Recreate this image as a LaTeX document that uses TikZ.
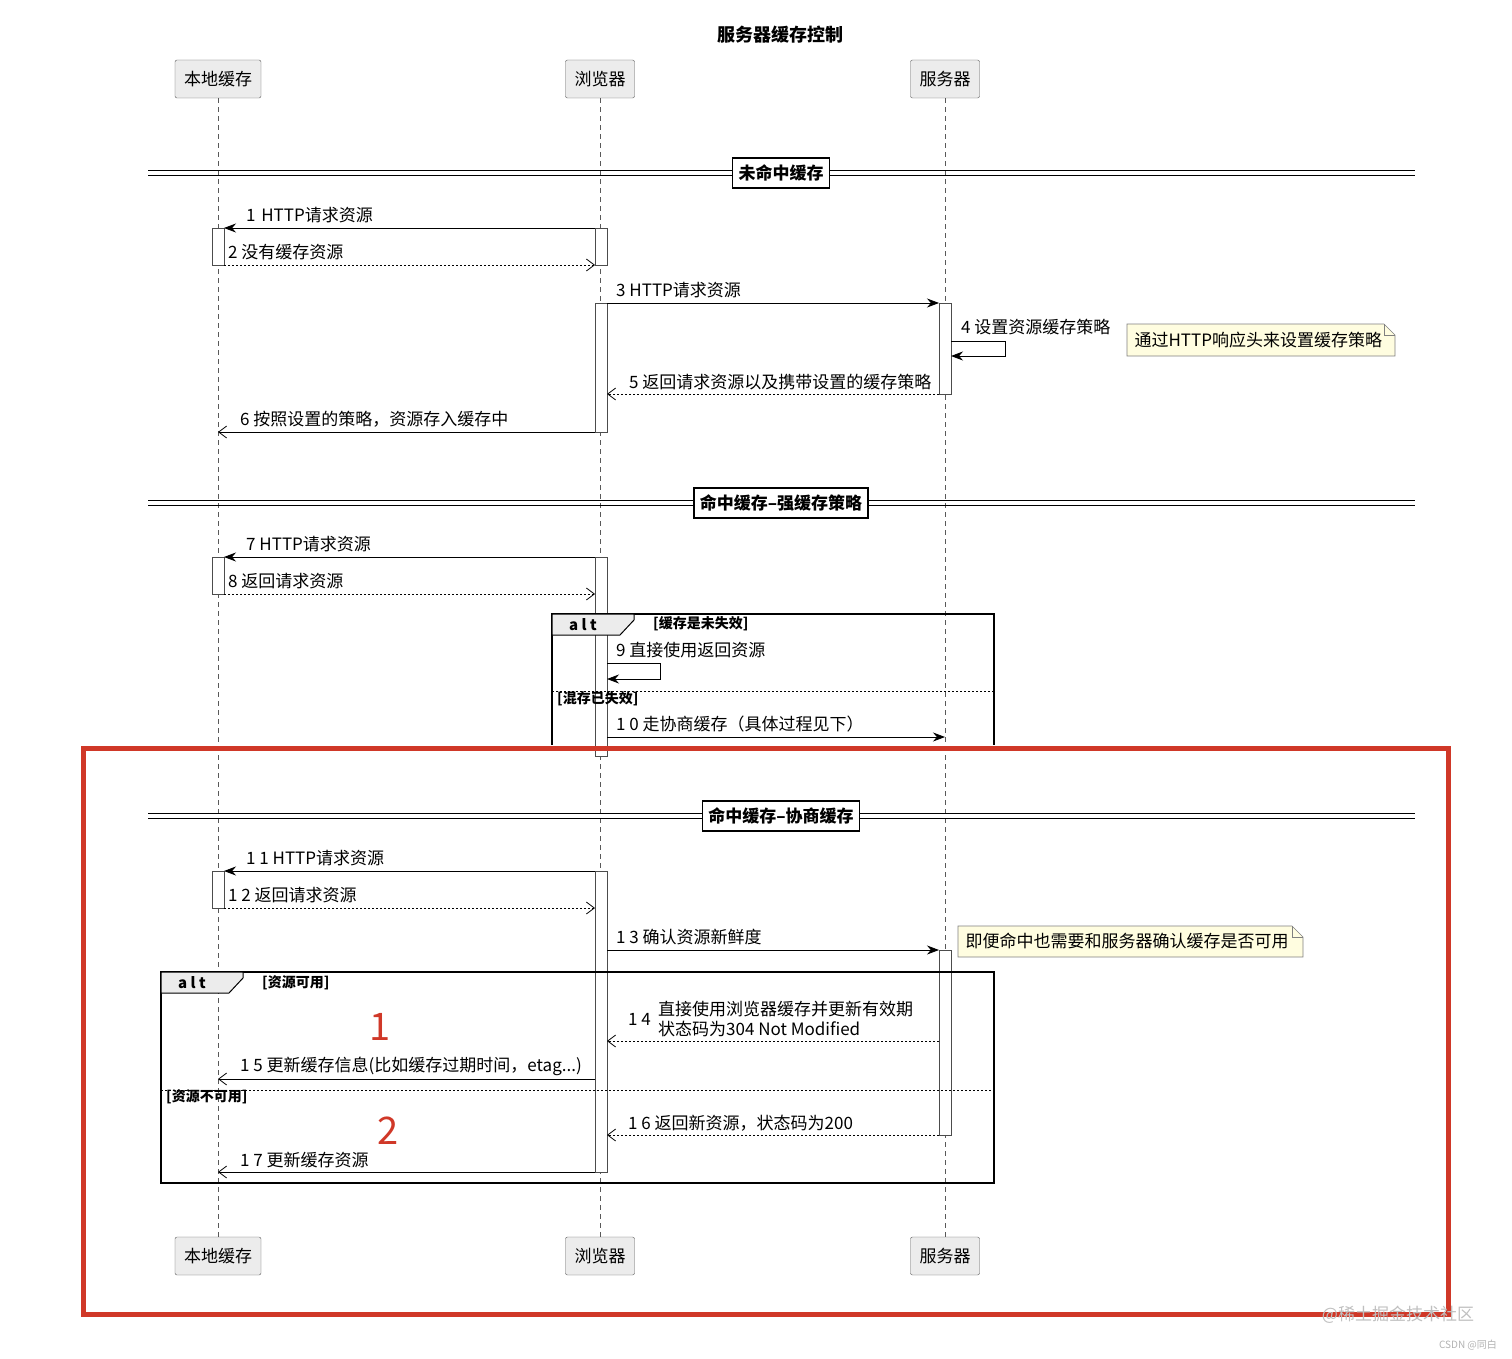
\documentclass[tikz,border=0pt]{standalone}
\usepackage{fontspec}
\setmainfont{Noto Sans CJK SC}
\usetikzlibrary{arrows.meta}
\definecolor{hl}{RGB}{208,56,40}
\begin{document}
\begin{tikzpicture}[x=1pt,y=-1pt,font=\fontsize{17}{19}\selectfont,
 part/.style={draw=gray!70!black,fill=gray!15,rounded corners=2pt,minimum height=38pt,inner xsep=9pt},
 life/.style={gray!70!black,dash pattern=on 5pt off 4pt,line width=0.7pt},
 act/.style={draw=black!70,fill=white,line width=0.8pt},
 sync/.style={-{Stealth[length=12pt,width=9pt]},line width=0.8pt},
 ret/.style={-{Straight Barb[length=8pt,width=12pt]},line width=0.8pt,dash pattern=on 2pt off 2pt},
 op/.style={-{Straight Barb[length=8pt,width=12pt]},line width=0.8pt},
 lbl/.style={anchor=west,inner sep=0pt},
 divlbl/.style={draw,line width=1.5pt,fill=white,font=\fontsize{17}{19}\selectfont\bfseries,minimum height=30pt,inner xsep=6pt},
 note/.style={fill=yellow!12,draw=black!50,line width=0.6pt},
 frame/.style={draw,line width=1.5pt},
 guard/.style={anchor=west,inner sep=0pt,font=\fontsize{14}{16}\selectfont\bfseries}]
\useasboundingbox (0,0) rectangle (1512,1359);
\node[font=\fontsize{18}{20}\selectfont\bfseries] (title) at (780,35) {服务器缓存控制};
% participants
\node[part] (L) at (218,79) {本地缓存};
\node[part] (B) at (600,79) {浏览器};
\node[part] (S) at (945,79) {服务器};
\node[part] (L2) at (218,1256) {本地缓存};
\node[part] (B2) at (600,1256) {浏览器};
\node[part] (S2) at (945,1256) {服务器};
\draw[life] (L.south) -- (L2.north);
\draw[life] (B.south) -- (B2.north);
\draw[life] (S.south) -- (S2.north);
% dividers
\foreach \y/\t/\n in {173/未命中缓存/d1,503/命中缓存–强缓存策略/d2,816/命中缓存–协商缓存/d3}{
 \draw[line width=0.8pt] (148,\y-2.5) -- (1415,\y-2.5) (148,\y+2.5) -- (1415,\y+2.5);
 \node[divlbl] (\n) at (781,\y) {\t};}
% activations
\foreach \x/\a/\b in {212/228/265,212/557/594,212/871/908,595/228/265,595/303/432,595/557/756,595/871/1172,939/303/394,939/950/1135}
 \draw[act] (\x,\a) rectangle (\x+12,\b);
% alt frame 1
\draw[frame] (552,745) -- (552,614) -- (994,614) -- (994,745);
\draw[fill=gray!15,line width=1pt] (552,614) -- (634,614) -- (634,620) -- (620,635) -- (552,635) -- cycle;
\node[font=\fontsize{15}{17}\selectfont\bfseries] (alt1) at (583,625) {a l t};
\node[guard] (g1) at (653,624) {[缓存是未失效]};
\draw[line width=0.8pt,dash pattern=on 2pt off 2pt] (552,691) -- (994,691);
\node[guard] (g2) at (557,699) {[混存已失效]};
% alt frame 2
\draw[frame] (161,972) rectangle (994,1183);
\draw[fill=gray!15,line width=1pt] (161,972) -- (243,972) -- (243,978) -- (229,993) -- (161,993) -- cycle;
\node[font=\fontsize{15}{17}\selectfont\bfseries] (alt2) at (192,983) {a l t};
\node[guard] (g3) at (262,983) {[资源可用]};
\draw[line width=0.8pt,dash pattern=on 2pt off 2pt] (161,1090) -- (994,1090);
\node[guard] (g4) at (166,1097) {[资源不可用]};
% messages
\draw[sync] (595,228) -- (224,228); \node[lbl] (m1) at (246,215) {1\,\,HTTP请求资源};
\draw[ret] (224,265) -- (595,265); \node[lbl] (m2) at (228,252) {2 没有缓存资源};
\draw[sync] (607,303) -- (939,303); \node[lbl] (m3) at (616,290) {3 HTTP请求资源};
\draw[sync] (951,341) -- (1005,341) -- (1005,356) -- (951,356); \node[lbl] (m4) at (961,327) {4 设置资源缓存策略};
\draw[note] (1127,324) -- (1384,324) -- (1395,335) -- (1395,356) -- (1127,356) -- cycle;
\draw[black!50,line width=0.6pt] (1384,324) -- (1384,335) -- (1395,335);
\node[anchor=west] (n1) at (1131,340) {通过HTTP响应头来设置缓存策略};
\draw[ret] (939,394) -- (607,394); \node[lbl] (m5) at (629,382) {5 返回请求资源以及携带设置的缓存策略};
\draw[op] (595,432) -- (218,432); \node[lbl] (m6) at (240,419) {6 按照设置的策略，资源存入缓存中};
\draw[sync] (595,557) -- (224,557); \node[lbl] (m7) at (246,544) {7 HTTP请求资源};
\draw[ret] (224,594) -- (595,594); \node[lbl] (m8) at (228,581) {8 返回请求资源};
\draw[sync] (607,663) -- (660,663) -- (660,679) -- (607,679); \node[lbl] (m9) at (616,650) {9 直接使用返回资源};
\draw[sync] (607,737) -- (945,737); \node[lbl] (m10) at (616,724) {1 0 走协商缓存（具体过程见下）};
\draw[sync] (595,871) -- (224,871); \node[lbl] (m11) at (246,858) {1 1 HTTP请求资源};
\draw[ret] (224,908) -- (595,908); \node[lbl] (m12) at (228,895) {1 2 返回请求资源};
\draw[sync] (607,950) -- (939,950); \node[lbl] (m13) at (616,937) {1 3 确认资源新鲜度};
\draw[note] (958,926) -- (1292,926) -- (1303,937) -- (1303,957) -- (958,957) -- cycle;
\draw[black!50,line width=0.6pt] (1292,926) -- (1292,937) -- (1303,937);
\node[anchor=west] (n2) at (962,941) {即便命中也需要和服务器确认缓存是否可用};
\draw[ret] (939,1041) -- (607,1041); \node[lbl] (m14a) at (628,1019) {1 4};
\node[lbl,align=left,font=\fontsize{17}{20}\selectfont] (m14) at (658,1019) {直接使用浏览器缓存并更新有效期\\状态码为304 Not Modified};
\draw[op] (595,1079) -- (218,1079); \node[lbl] (m15) at (240,1066) {1 5 更新缓存信息(比如缓存过期时间，etag...)};
\draw[ret] (939,1135) -- (607,1135); \node[lbl] (m16) at (628,1123) {1 6 返回新资源，状态码为200};
\draw[op] (595,1172) -- (218,1172); \node[lbl] (m17) at (240,1160) {1 7 更新缓存资源};
\node[text=hl,font=\fontsize{38}{40}\selectfont] (r1) at (380,1027) {1};
\node[text=hl,font=\fontsize{38}{40}\selectfont] (r2) at (388,1131) {2};
% red highlight
\draw[hl,line width=5pt] (83,748) rectangle (1448,1314);
\node[text=gray!50,font=\fontsize{17}{19}\selectfont] (wm) at (1398,1315) {@稀土掘金技术社区};
\node[text=gray!60,font=\fontsize{10}{12}\selectfont] (wm2) at (1468,1345) {CSDN @同白};
\end{tikzpicture}
\end{document}
